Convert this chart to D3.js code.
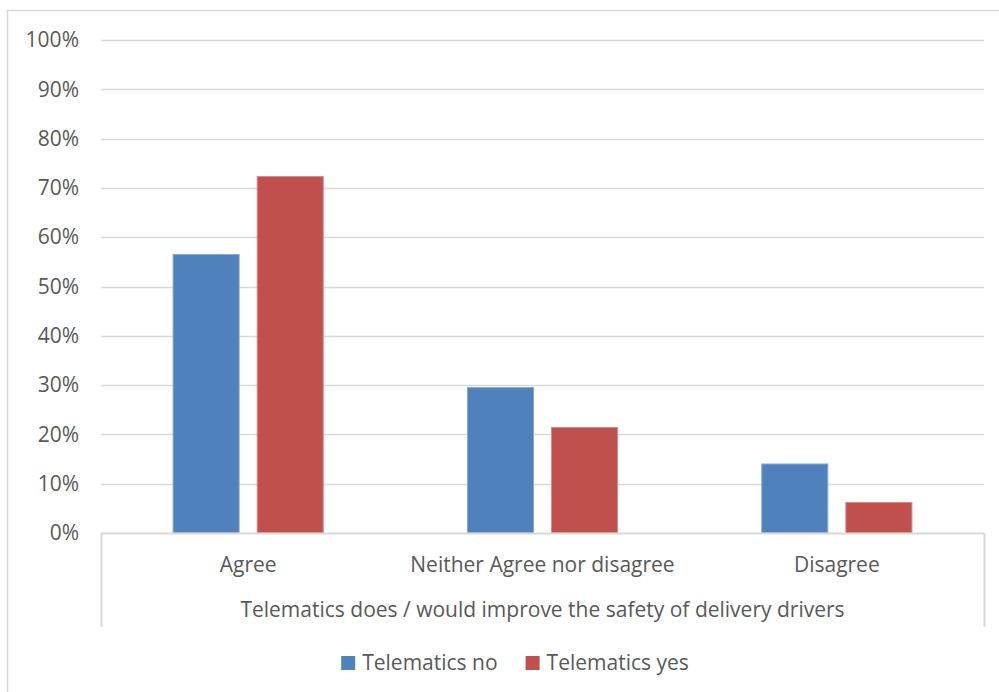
<!DOCTYPE html>
<html>
<head>
<meta charset="utf-8">
<script src="https://cdn.jsdelivr.net/npm/d3@7"></script>
<style>
  html, body { margin: 0; padding: 0; background: #fff; }
  svg { display: block; }
  text { font-family: "Open Sans", "Noto Sans", sans-serif; fill: #595959; }
</style>
</head>
<body>
<svg id="chart" width="999" height="692"></svg>
<script>
// Survey responses by telematics use
const categories = ["Agree", "Neither Agree nor disagree", "Disagree"];
const seriesNames = ["Telematics no", "Telematics yes"];
const telematicsNo = [0.565, 0.295, 0.140];
const telematicsYes = [0.723, 0.214, 0.062];
const yTicks = [0, 0.1, 0.2, 0.3, 0.4, 0.5, 0.6, 0.7, 0.8, 0.9, 1.0];
const groupTitle = "Telematics does / would improve the safety of delivery drivers";
const colors = ["#4F81BD", "#C0504D"];
const strokes = ["#8AAAD6", "#D98A88"];

const svg = d3.select("#chart");
const W = 999, H = 692;
const plot = { left: 101, right: 984, top: 40, bottom: 533 };
const fontSize = 21;

// Outer chart frame
svg.append("rect")
  .attr("x", 7.5).attr("y", 10.5)
  .attr("width", W + 20).attr("height", H + 20)
  .attr("fill", "#fff").attr("stroke", "#D9D9D9").attr("stroke-width", 1.5);

const y = d3.scaleLinear().domain([0, 1]).range([plot.bottom, plot.top]);
const x0 = d3.scaleBand().domain(categories).range([plot.left, plot.right])
  .paddingInner(0).paddingOuter(0);
const x1 = d3.scaleBand().domain(seriesNames).range([0, x0.bandwidth()])
  .paddingInner(18 / 84).paddingOuter(72 / 84);

// Gridlines
svg.append("g").selectAll("line").data(yTicks.filter(d => d > 0)).join("line")
  .attr("x1", plot.left).attr("x2", plot.right)
  .attr("y1", d => Math.round(y(d)) + 0.5).attr("y2", d => Math.round(y(d)) + 0.5)
  .attr("stroke", "#D9D9D9").attr("stroke-width", 1.5);

// Y axis labels
const yAxis = d3.axisLeft(y).tickValues(yTicks).tickFormat(d3.format(".0%"))
  .tickSize(0).tickPadding(0);
const gy = svg.append("g").attr("transform", `translate(79,0)`).call(yAxis);
gy.select(".domain").remove();
gy.selectAll("text").attr("font-size", fontSize).attr("fill", "#595959")
  .style("font-family", '"Open Sans", sans-serif');

// Bars
const rows = categories.map((c, i) => ({ cat: c, vals: [telematicsNo[i], telematicsYes[i]] }));
const groups = svg.append("g").selectAll("g").data(rows).join("g")
  .attr("transform", d => `translate(${x0(d.cat)},0)`);
groups.selectAll("rect")
  .data(d => d.vals.map((v, k) => ({ name: seriesNames[k], v, k })))
  .join("rect")
  .attr("x", d => x1(d.name))
  .attr("width", x1.bandwidth())
  .attr("y", d => y(d.v))
  .attr("height", d => y(0) - y(d.v))
  .attr("fill", d => colors[d.k])
  .attr("stroke", d => strokes[d.k])
  .attr("stroke-width", 1);

// Category axis baseline and frame
const axisColor = "#D9D9D9";
svg.append("line")
  .attr("x1", plot.left).attr("x2", plot.right)
  .attr("y1", plot.bottom + 0.5).attr("y2", plot.bottom + 0.5)
  .attr("stroke", axisColor).attr("stroke-width", 2);
[plot.left, plot.right].forEach(xp => {
  svg.append("line")
    .attr("x1", xp + 0.5).attr("x2", xp + 0.5)
    .attr("y1", plot.bottom).attr("y2", 627)
    .attr("stroke", axisColor).attr("stroke-width", 2);
});

// Category labels
svg.append("g").selectAll("text").data(categories).join("text")
  .attr("x", d => x0(d) + x0.bandwidth() / 2)
  .attr("y", 565)
  .attr("dy", "0.35em")
  .attr("text-anchor", "middle")
  .attr("font-size", fontSize)
  .text(d => d);

svg.append("text")
  .attr("x", (plot.left + plot.right) / 2)
  .attr("y", 610)
  .attr("dy", "0.35em")
  .attr("text-anchor", "middle")
  .attr("font-size", fontSize)
  .text(groupTitle);

// Legend
const legend = svg.append("g");
const items = legend.selectAll("g").data(seriesNames).join("g");
items.append("rect")
  .attr("width", 14).attr("height", 14)
  .attr("y", -7)
  .attr("fill", (d, i) => colors[i]);
items.append("text")
  .attr("x", 21).attr("dy", "0.35em")
  .attr("font-size", fontSize)
  .text(d => d);
let offset = 0;
const gap = 28;
items.each(function () {
  const g = d3.select(this);
  g.attr("transform", `translate(${offset},0)`);
  offset += 21 + g.select("text").node().getComputedTextLength() + gap;
});
const totalW = offset - gap;
legend.attr("transform", `translate(${515 - totalW / 2},663)`);
</script>
</body>
</html>
